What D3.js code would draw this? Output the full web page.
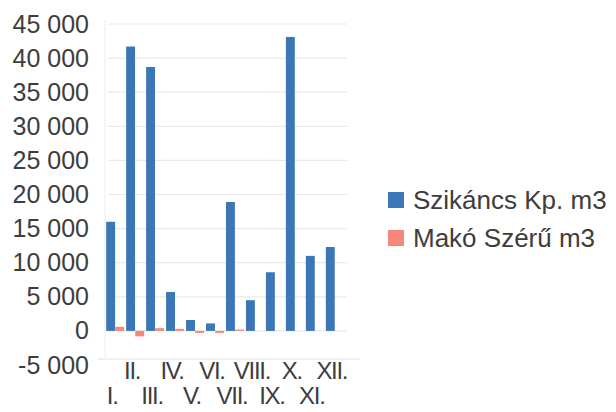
<!DOCTYPE html>
<html>
<head>
<meta charset="utf-8">
<script src="https://cdn.jsdelivr.net/npm/d3@7"></script>
<style>
  html, body { margin: 0; padding: 0; background: #fff; }
  svg { display: block; }
  text { font-family: "Liberation Sans", Arial, sans-serif; fill: #3d3d3d; }
</style>
</head>
<body>
<svg id="chart" width="616" height="412"></svg>
<script>
// Monthly volumes (m3)
const months = ["I.", "II.", "III.", "IV.", "V.", "VI.", "VII.", "VIII.", "IX.", "X.", "XI.", "XII."];
const seriesNames = ["Szikáncs Kp. m3", "Makó Szérű m3"];
const szikancs = [16000, 41700, 38700, 5700, 1600, 1100, 18900, 4500, 8600, 43100, 11000, 12300];
const mako = [600, -800, 400, 300, -300, -300, 200, 0, 0, 0, 0, 0];
const yTicks = [-5000, 0, 5000, 10000, 15000, 20000, 25000, 30000, 35000, 40000, 45000];
const colors = ["#3b76b6", "#f7877a"];

const svg = d3.select("#chart");

const x0 = d3.scaleBand().domain(months).range([105, 345]).paddingInner(0.08).paddingOuter(0.05);
const x1 = d3.scaleBand().domain(seriesNames).range([0, x0.bandwidth()]).padding(0.02);
const y = d3.scaleLinear().domain([-5000, 45000]).range([365, 24]);

// Chart frame lines
svg.append("line").attr("x1", 105).attr("x2", 105).attr("y1", 20).attr("y2", 358)
  .attr("stroke", "#ececec").attr("stroke-width", 1);
svg.append("line").attr("x1", 98).attr("x2", 360).attr("y1", 359).attr("y2", 359)
  .attr("stroke", "#ebebeb").attr("stroke-width", 1.5);

// Horizontal gridlines
svg.append("g").selectAll("line").data(yTicks.filter(t => t > -5000)).join("line")
  .attr("x1", 108).attr("x2", 347)
  .attr("y1", d => y(d)).attr("y2", d => y(d))
  .attr("stroke", "#e9e9e9").attr("stroke-width", 1.2);

// Y axis labels: space as thousands separator, plain hyphen for negatives
const fmt = v => d3.format(",")(v).replace(/,/g, "\u00a0").replace("\u2212", "-");
const yAxis = d3.axisLeft(y).tickValues(yTicks).tickSize(0).tickPadding(0).tickFormat(fmt);
svg.append("g").attr("transform", "translate(89,0)").call(yAxis)
  .call(g => g.select(".domain").remove())
  .call(g => g.selectAll("text").attr("font-size", 25).attr("fill", "#3d3d3d")
    .style("font-family", "'Liberation Sans', Arial, sans-serif"));

// Bars
const rows = months.map((m, i) => ({ month: m, values: [szikancs[i], mako[i]] }));
const groups = svg.append("g").selectAll("g").data(rows).join("g")
  .attr("transform", d => `translate(${x0(d.month)},0)`);
groups.selectAll("rect").data(d => d.values.map((v, j) => ({ name: seriesNames[j], value: v, j })))
  .join("rect")
  .attr("x", d => x1(d.name))
  .attr("width", x1.bandwidth())
  .attr("y", d => y(Math.max(0, d.value)))
  .attr("height", d => Math.abs(y(d.value) - y(0)))
  .attr("fill", d => colors[d.j]);

// X axis labels, staggered over two rows
svg.append("g").selectAll("text").data(months).join("text")
  .attr("x", d => x0(d) + x0.bandwidth() / 2 - 3)
  .attr("y", (d, i) => i % 2 === 0 ? 404 : 379)
  .attr("text-anchor", "middle")
  .attr("font-size", 24)
  .attr("letter-spacing", -1.3)
  .text(d => d);

// Legend
const legend = svg.append("g").selectAll("g").data(seriesNames).join("g")
  .attr("transform", (d, i) => `translate(388,${200 + i * 38})`);
legend.append("rect").attr("x", 0).attr("y", -8).attr("width", 16).attr("height", 16)
  .attr("fill", (d, i) => colors[i]);
legend.append("text").attr("x", 25).attr("y", 0).attr("dy", "0.36em")
  .attr("font-size", 26).text(d => d);
</script>
</body>
</html>
